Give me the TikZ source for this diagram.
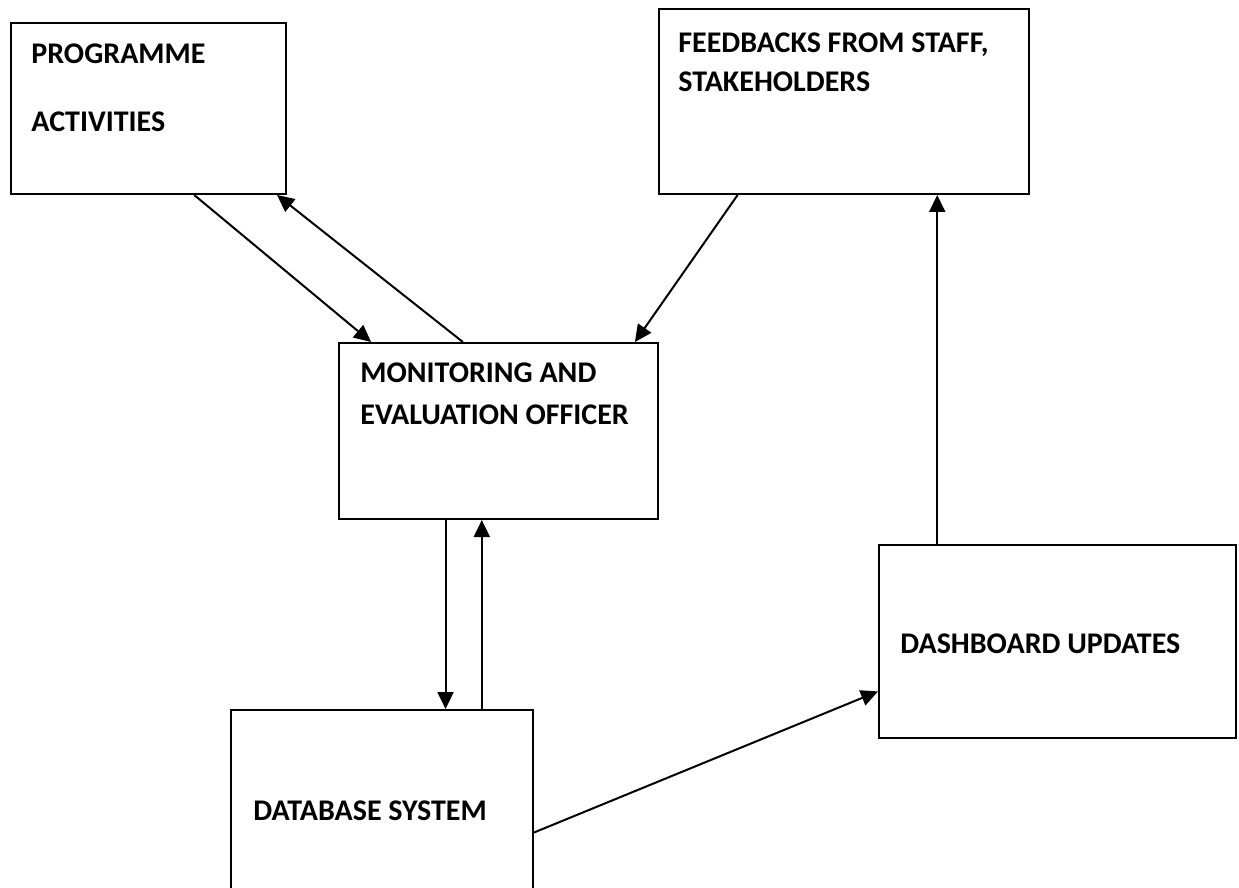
\documentclass[tikz,border=0pt]{standalone}
\usepackage{fontspec}
\setmainfont{Carlito}
\usetikzlibrary{arrows.meta,calc}

\tikzset{
  box/.style={draw, rectangle, line width=1pt, inner sep=0pt, anchor=north west},
  boxtext/.style={anchor=north west, inner sep=0pt, align=left, font=\fontsize{15}{21}\selectfont\bfseries},
  flow/.style={line width=1pt, -{Triangle[length=8.5pt,width=8pt]}},
}

\begin{document}
\begin{tikzpicture}[x=0.5pt,y=-0.5pt]
        \useasboundingbox (0,0) rectangle (1239,888);

        % Boxes
        \node[box, minimum width=137.5pt, minimum height=85.5pt] (prog) at (10,22) {};
        \node[box, minimum width=185pt, minimum height=92.5pt] (fb) at (658,8) {};
        \node[box, minimum width=159.5pt, minimum height=88pt] (me) at (338,342) {};
        \node[box, minimum width=151pt, minimum height=95.5pt] (db) at (230,709) {};
        \node[box, minimum width=178.5pt, minimum height=96.5pt] (dash) at (878,544) {};

        % Texts inside the boxes
        \node[boxtext] (progtext) at ($(prog.north west)+(21,21)$) {PROGRAMME\\[13pt]ACTIVITIES};
        \node[boxtext] (fbtext) at ($(fb.north west)+(20,24)$) {FEEDBACKS FROM STAFF,\\[-1.5pt]STAKEHOLDERS};
        \node[boxtext] (metext) at ($(me.north west)+(22,20)$) {MONITORING AND\\EVALUATION OFFICER};
        \node[boxtext] (dbtext) at ($(db.north west)+(23,91)$) {DATABASE SYSTEM};
        \node[boxtext] (dashtext) at ($(dash.north west)+(22,89)$) {DASHBOARD UPDATES};

        % Arrows between programme, feedbacks and the officer
        \draw[flow] ($(prog.south west)!0.665!(prog.south east)$) -- ($(me.north west)!0.103!(me.north east)$);
        \draw[flow] ($(me.north west)!0.389!(me.north east)$) -- ($(prog.south west)!0.964!(prog.south east)$);
        \draw[flow] ($(fb.south west)!0.214!(fb.south east)$) -- ($(me.north west)!0.925!(me.north east)$);

        % Officer <-> database
        \coordinate (medown) at ($(me.south west)!0.335!(me.south east)$);
        \coordinate (meup) at ($(me.south west)!0.448!(me.south east)$);
        \draw[flow] (medown) -- (medown |- db.north);
        \draw[flow] (meup |- db.north) -- (meup);

        % Database -> dashboard -> feedbacks
        \draw[flow] ($(db.north east)!0.64!(db.south east)$) -- ($(dash.north west)!0.756!(dash.south west)$);
        \coordinate (dashup) at ($(dash.north west)!0.165!(dash.north east)$);
        \draw[flow] (dashup) -- (dashup |- fb.south);
\end{tikzpicture}
\end{document}
